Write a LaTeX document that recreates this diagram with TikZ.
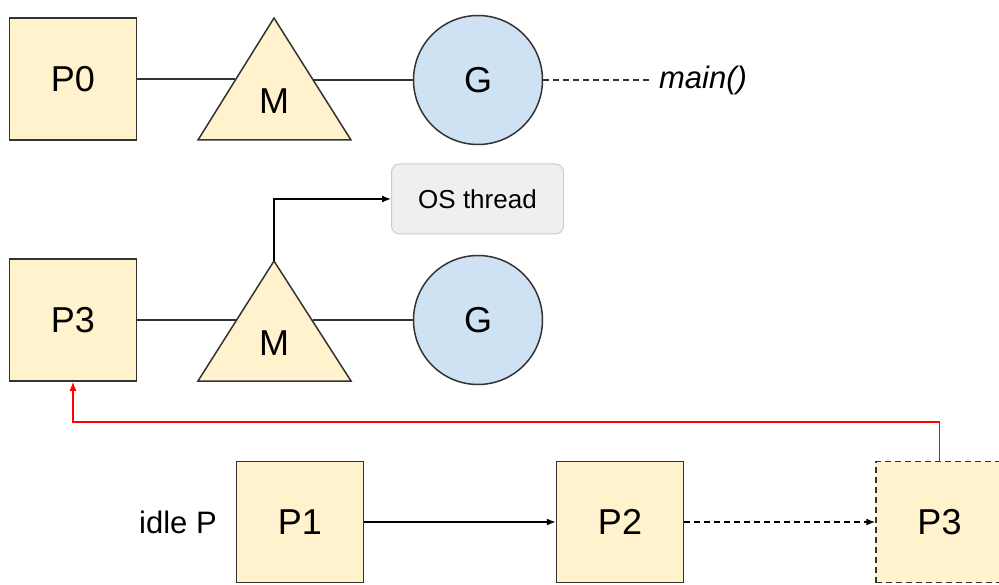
\documentclass[tikz,border=0pt]{standalone}
\usepackage{fontspec}
\setmainfont{Liberation Sans}
\usetikzlibrary{calc,arrows.meta}
\definecolor{pyel}{HTML}{FFF2CC}
\definecolor{gblue}{HTML}{CFE2F3}
\definecolor{edge}{HTML}{333333}
\definecolor{osfill}{HTML}{EFEFEF}
\definecolor{osedge}{HTML}{CCCCCC}
\definecolor{redline}{HTML}{FF0000}
\begin{document}
\begin{tikzpicture}[x=1pt,y=-1pt,
  pbox/.style={draw=edge,fill=pyel,line width=1.5pt,minimum width=127pt,minimum height=122pt,inner sep=0pt,font=\fontsize{36}{40}\selectfont},
  gcirc/.style={circle,draw=edge,fill=gblue,line width=1.5pt,minimum size=129pt,inner sep=0pt,font=\fontsize{36}{40}\selectfont},
  tri/.style={draw=edge,fill=pyel,line width=1.5pt,line join=miter},
  link/.style={draw=edge,line width=1.5pt},
  arr/.style={draw=black,line width=1.3pt,-{Latex[length=9pt,width=7pt]}},
  dsh/.style={dash pattern=on 6pt off 4pt},
  lbl/.style={font=\fontsize{31}{36}\selectfont,inner sep=0pt}
]
\useasboundingbox (0,0) rectangle (999,585);

% ---- Row 1 ----
\node[pbox] (P0) at (73,79) {P0};
\coordinate (M1top) at (274,18);
\coordinate (M1bl) at (198,140);
\coordinate (M1br) at (351,140);
\draw[tri] (M1top) -- (M1bl) -- (M1br) -- cycle;
\node[font=\fontsize{36}{40}\selectfont,inner sep=0pt] (M1) at (274,101) {M};
\node[gcirc] (G1) at (478,80) {G};
\coordinate (M1l) at ($(M1bl)!0.492!(M1top)$);
\coordinate (M1r) at ($(M1br)!0.492!(M1top)$);
\draw[link] (P0.east) -- (P0.east -| M1l);
\draw[link] (G1.west -| M1r) -- (G1.west);
\node[lbl,font=\fontsize{31}{36}\selectfont\itshape] (main) at (703,80) {main()};
\draw[link,dsh] (G1.east) -- ($(main.west)+(-10,0)$);

% ---- Row 2 ----
\node[pbox] (P3) at (73,320) {P3};
\coordinate (M2top) at (274,261);
\coordinate (M2bl) at (198,381);
\coordinate (M2br) at (351,381);
\draw[tri] (M2top) -- (M2bl) -- (M2br) -- cycle;
\node[font=\fontsize{36}{40}\selectfont,inner sep=0pt] (M2) at (274,343) {M};
\node[gcirc] (G2) at (478,320) {G};
\coordinate (M2l) at ($(M2bl)!0.5!(M2top)$);
\coordinate (M2r) at ($(M2br)!0.5!(M2top)$);
\draw[link] (P3.east) -- (P3.east -| M2l);
\draw[link] (G2.west -| M2r) -- (G2.west);
\node[draw=osedge,fill=osfill,rounded corners=8pt,line width=1pt,minimum width=172pt,minimum height=70pt,inner sep=0pt,font=\fontsize{26}{30}\selectfont] (os) at (477.5,199) {OS thread};
\draw[arr] (M2top) |- (os.west);

% ---- Row 3 ----
\node[lbl] (idle) at (178,522) {idle P};
\node[pbox,minimum height=121pt] (P1) at (300,522) {P1};
\node[pbox,minimum height=121pt] (P2) at (620,522) {P2};
\node[pbox,minimum height=121pt,dsh] (P3d) at (939.5,522) {P3};
\draw[arr] (P1.east) -- (P2.west);
\draw[arr,dsh] (P2.east) -- (P3d.west);

% ---- red return arrow ----
\coordinate (redc) at (0,422);
\draw[draw=redline,line width=1.3pt,-{Latex[length=9pt,width=7pt]}] (P3d.north) -- (P3d.north |- redc) -| (P3.south);
\end{tikzpicture}
\end{document}
